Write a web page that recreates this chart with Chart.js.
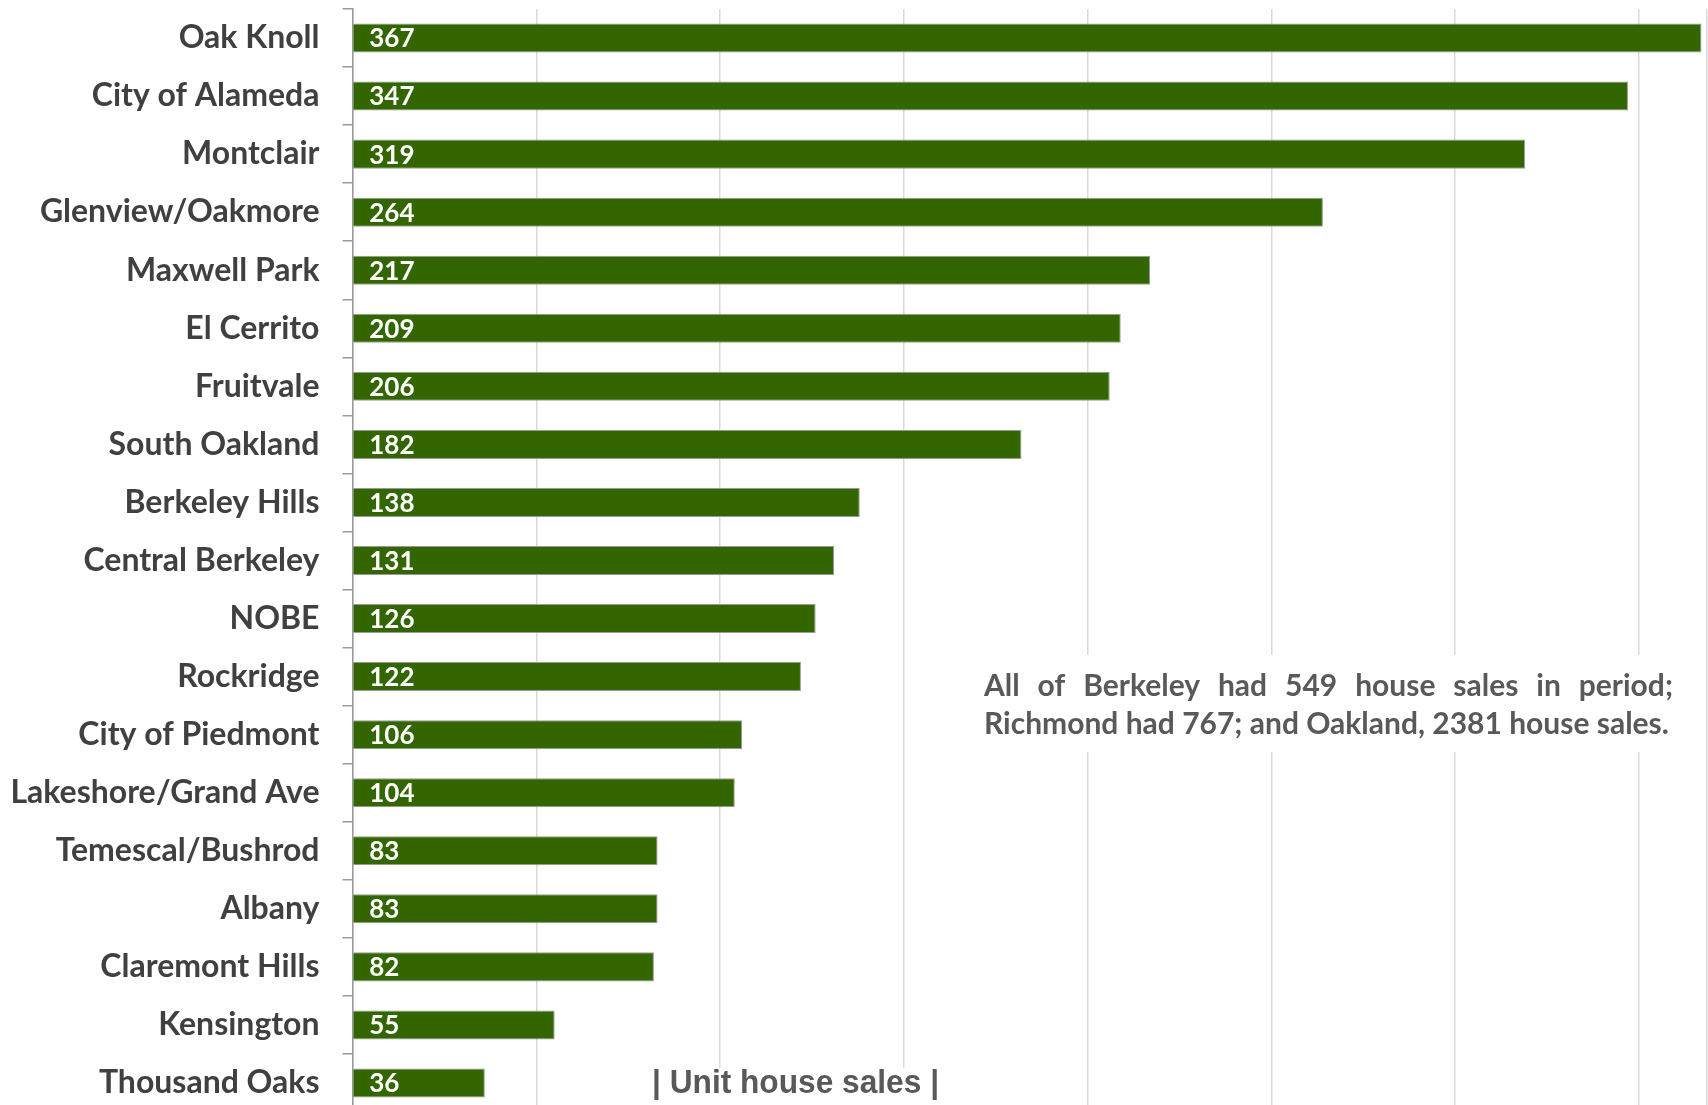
<!DOCTYPE html>
<html>
<head>
<meta charset="utf-8">
<script src="https://cdn.jsdelivr.net/npm/chart.js@4.4.1/dist/chart.umd.min.js"></script>
<style>
  html, body { margin: 0; padding: 0; background: #ffffff; overflow: hidden; }
  #frame { width: 1708px; height: 1105px; overflow: hidden; position: relative; }
  /* plot runs slightly past the bottom edge, as in the source image */
  #wrap { width: 1708px; height: 1112px; position: absolute; left: 0; top: 0; }
</style>
</head>
<body>
<div id="frame"><div id="wrap"><canvas id="chart"></canvas></div></div>
<script>
const neighborhoods = [
  "Oak Knoll", "City of Alameda", "Montclair", "Glenview/Oakmore", "Maxwell Park",
  "El Cerrito", "Fruitvale", "South Oakland", "Berkeley Hills", "Central Berkeley",
  "NOBE", "Rockridge", "City of Piedmont", "Lakeshore/Grand Ave", "Temescal/Bushrod",
  "Albany", "Claremont Hills", "Kensington", "Thousand Oaks",
];
const houseSales = [367, 347, 319, 264, 217, 209, 206, 182, 138, 131, 126, 122, 106, 104, 83, 83, 82, 55, 36];
const noteLines = [
  "All of Berkeley had 549 house sales in period;",
  "Richmond had 767; and Oakland, 2381 house sales.",
];
const axisTitle = "| Unit house sales |";

const BAR_GREEN = "#336600";
const TEXT_GRAY = "#595959";
const LABEL_GRAY = "#404040";
const AXIS_LEFT = 352.5;

// white value labels inside the start of each bar
const valueLabels = {
  id: "valueLabels",
  afterDatasetsDraw(chart) {
    const ctx = chart.ctx;
    const meta = chart.getDatasetMeta(0);
    ctx.save();
    ctx.fillStyle = "#ffffff";
    ctx.font = "bold 26px Lato";
    ctx.textAlign = "left";
    ctx.textBaseline = "middle";
    meta.data.forEach((bar, i) => {
      ctx.fillText(String(houseSales[i]), bar.base + 16, bar.y + 1);
    });
    ctx.restore();
  },
};

// note text box and bottom axis caption, both on white boxes over the grid
const notes = {
  id: "notes",
  beforeDatasetsDraw(chart) {
    const ctx = chart.ctx;
    ctx.save();
    ctx.fillStyle = "#ffffff";
    ctx.fillRect(975, 655, 730, 97);
    ctx.fillRect(580, 1068, 460, 50);

    ctx.fillStyle = TEXT_GRAY;
    ctx.textBaseline = "middle";
    ctx.font = "bold 30px Lato";
    // first line justified between these edges
    const left = 984, right = 1673;
    const words = noteLines[0].split(" ");
    const wordsWidth = words.reduce((s, w) => s + ctx.measureText(w).width, 0);
    const gap = (right - left - wordsWidth) / (words.length - 1);
    let x = left;
    words.forEach((w) => {
      ctx.fillText(w, x, 686);
      x += ctx.measureText(w).width + gap;
    });
    ctx.fillText(noteLines[1], left, 724);

    ctx.font = "bold 33px 'Liberation Sans'";
    const tw = ctx.measureText(axisTitle).width;
    const sx = 287 / tw;
    ctx.translate(652, 1084);
    ctx.scale(sx, 1);
    ctx.fillText(axisTitle, 0, 0);
    ctx.restore();
  },
};

new Chart(document.getElementById("chart"), {
  type: "bar",
  data: {
    labels: neighborhoods,
    datasets: [{
      data: houseSales,
      backgroundColor: BAR_GREEN,
      borderColor: "#9a9a9a",
      borderWidth: 1,
      borderSkipped: "start",
      categoryPercentage: 1,
      barPercentage: 0.5,
    }],
  },
  options: {
    indexAxis: "y",
    responsive: true,
    maintainAspectRatio: false,
    animation: false,
    devicePixelRatio: 1,
    layout: { padding: { top: 9, right: 1, bottom: 0, left: 0 } },
    scales: {
      x: {
        min: 0,
        max: 368.5,
        ticks: { display: false, stepSize: 50 },
        grid: { color: "#d9d9d9", lineWidth: 1.5, drawTicks: false },
        border: { display: false },
        afterFit(scale) {
          scale.height = 0;
          scale.paddingLeft = 0;
          scale.paddingRight = 0;
        },
      },
      y: {
        ticks: {
          color: LABEL_GRAY,
          font: { family: "Lato", size: 32, weight: "bold" },
          padding: 23,
        },
        grid: {
          offset: true,
          drawOnChartArea: false,
          tickLength: 10,
          color: "#9a9a9a",
          lineWidth: 1.5,
        },
        border: { color: "#9a9a9a", width: 1.5 },
        afterFit(scale) {
          scale.width = AXIS_LEFT;
          scale.paddingTop = 0;
          scale.paddingBottom = 0;
        },
      },
    },
    plugins: {
      legend: { display: false },
      tooltip: { enabled: false },
    },
  },
  plugins: [valueLabels, notes],
});
</script>
</body>
</html>
